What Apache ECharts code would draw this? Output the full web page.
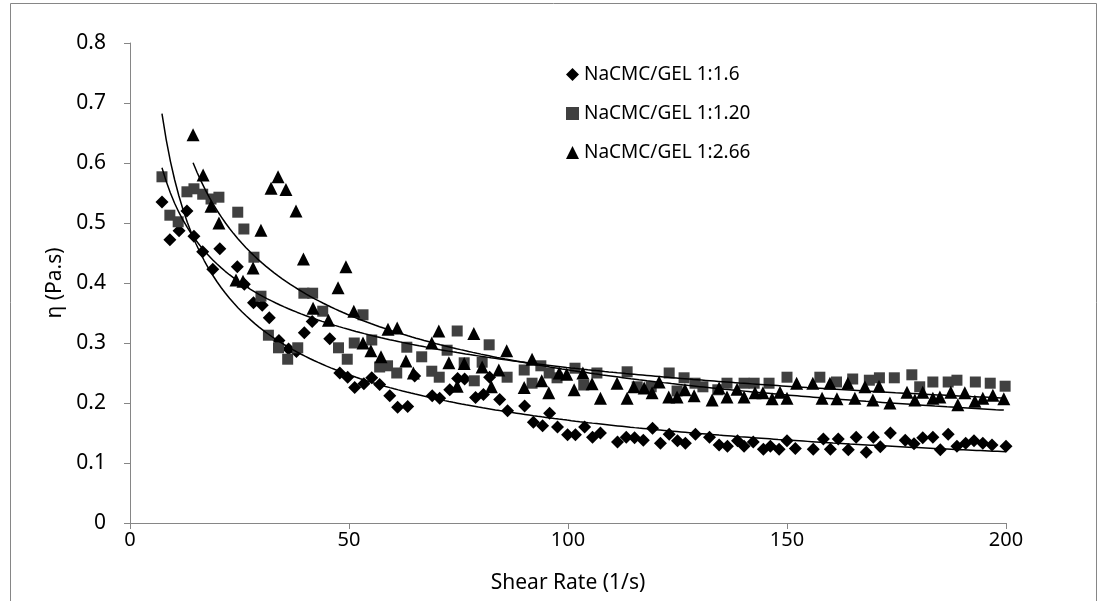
<!DOCTYPE html>
<html>
<head>
<meta charset="utf-8">
<script src="https://cdn.jsdelivr.net/npm/echarts@6/dist/echarts.min.js"></script>
<style>
html,body{margin:0;padding:0;background:#fff;}
#c{width:1101px;height:601px;}
</style>
</head>
<body>
<div id="c"></div>
<script>
// Series names
const seriesNames = ['NaCMC/GEL 1:1.6', 'NaCMC/GEL 1:1.20', 'NaCMC/GEL 1:2.66'];

// NaCMC/GEL 1:1.6 (diamonds) [shear rate, viscosity]
const gel16 = [
[7.3,0.535],[9.1,0.472],[11.2,0.487],[13,0.52],[14.6,0.478],[16.6,0.452],[18.9,0.423],[20.5,0.457],
[24.5,0.427],[26.1,0.398],[28.2,0.367],[30.2,0.363],[31.8,0.342],[34,0.304],[36.2,0.29],[38,0.286],
[39.8,0.317],[41.6,0.336],[45.6,0.307],[47.9,0.25],[49.7,0.243],[51.3,0.226],[53.4,0.232],[55.2,0.242],
[57,0.231],[59.3,0.212],[61.1,0.193],[63.4,0.194],[65,0.245],[69,0.212],[70.7,0.208],[73,0.222],
[74.8,0.241],[76.4,0.24],[78.9,0.209],[80.7,0.214],[82.1,0.243],[84.4,0.206],[86.2,0.187],[90.1,0.195],
[92.1,0.168],[94.2,0.162],[95.8,0.183],[97.6,0.16],[99.9,0.147],[101.7,0.147],[103.8,0.16],[105.6,0.143],
[107.4,0.15],[111.3,0.135],[113.3,0.143],[115.2,0.142],[117.2,0.138],[119.3,0.158],[121.1,0.133],[123.1,0.148],
[125,0.137],[126.8,0.133],[129.1,0.148],[132.3,0.143],[134.5,0.13],[136.4,0.128],[138.7,0.137],[140.2,0.128],
[142.3,0.135],[144.6,0.123],[146.2,0.128],[148.2,0.123],[150,0.137],[151.9,0.124],[156,0.123],[158.3,0.14],
[159.9,0.123],[161.7,0.14],[164,0.122],[165.8,0.143],[168.1,0.118],[169.7,0.143],[171.3,0.127],[173.6,0.15],
[177,0.138],[179,0.132],[181,0.142],[183.3,0.143],[185,0.122],[186.8,0.148],[188.8,0.128],[190.8,0.133],
[192.7,0.137],[194.7,0.133],[196.8,0.13],[200,0.128]
];

// NaCMC/GEL 1:1.20 (squares)
const gel120 = [
[7.3,0.577],[9.1,0.513],[11,0.502],[13,0.552],[14.6,0.557],[16.6,0.548],[18.5,0.54],[20.3,0.543],
[24.6,0.518],[26,0.49],[28.3,0.443],[29.9,0.378],[31.6,0.313],[33.9,0.292],[36,0.273],[38.3,0.292],
[39.7,0.383],[41.7,0.383],[44,0.353],[47.6,0.292],[49.6,0.273],[51.2,0.3],[53.2,0.347],[55.2,0.305],
[57,0.26],[58.8,0.262],[60.9,0.25],[63.2,0.293],[66.6,0.277],[68.9,0.253],[70.6,0.243],[72.4,0.288],
[74.7,0.32],[76.3,0.267],[78.6,0.237],[80.4,0.268],[82,0.297],[86.1,0.243],[90,0.255],[91.8,0.233],
[93.8,0.262],[95.7,0.25],[97.5,0.242],[101.6,0.258],[103.6,0.23],[106.6,0.25],[113.5,0.252],[115.8,0.227],
[119,0.227],[123.1,0.25],[124.9,0.22],[126.5,0.242],[129,0.233],[130.8,0.227],[134.2,0.222],[136.3,0.233],
[140.2,0.233],[142.5,0.233],[145.9,0.233],[150,0.243],[157.5,0.243],[161.3,0.235],[165,0.24],[168.8,0.238],
[171.1,0.242],[174.5,0.242],[178.5,0.247],[180.3,0.227],[183.3,0.235],[186.8,0.235],[188.8,0.238],[193,0.235],
[196.4,0.233],[199.8,0.228]
];

// NaCMC/GEL 1:2.66 (triangles)
const gel266 = [
[14.4,0.647],[16.7,0.58],[18.5,0.528],[20.3,0.5],[24.2,0.405],[25.8,0.403],[28.1,0.425],[29.9,0.488],
[32.2,0.558],[33.8,0.577],[35.6,0.556],[37.9,0.52],[39.6,0.44],[41.8,0.358],[45.3,0.338],[47.5,0.392],
[49.3,0.427],[51.1,0.353],[53.2,0.3],[55,0.287],[57.3,0.277],[58.9,0.323],[61,0.325],[63,0.27],
[64.7,0.25],[68.9,0.3],[70.5,0.32],[72.8,0.267],[74.7,0.228],[76.3,0.266],[78.5,0.316],[80.4,0.26],
[82.5,0.227],[84.2,0.255],[86,0.287],[90,0.226],[91.8,0.273],[94,0.237],[95.6,0.217],[98,0.25],
[99.7,0.248],[101.4,0.222],[103.4,0.25],[105.5,0.232],[107.4,0.208],[111.2,0.233],[113.5,0.208],[115,0.227],
[117.4,0.225],[119.2,0.217],[120.8,0.235],[123,0.21],[124.9,0.21],[126.7,0.222],[128.8,0.212],[132.9,0.205],
[134.5,0.225],[136.3,0.21],[138.6,0.223],[140.2,0.21],[142.7,0.217],[144.5,0.217],[146.6,0.207],[148.4,0.218],
[150,0.208],[152.2,0.233],[155.9,0.233],[158,0.208],[159.8,0.233],[161.4,0.207],[163.9,0.233],[165.5,0.208],
[167.8,0.227],[169.6,0.205],[171,0.228],[173.5,0.2],[177.4,0.218],[179.2,0.205],[181,0.218],[183.3,0.208],
[184.9,0.21],[187.4,0.218],[189,0.197],[190.6,0.217],[192.9,0.203],[194.7,0.208],[197,0.213],[199.5,0.207]
];

// Axis tick settings
const xTicks = {min: 0, max: 200, interval: 50};
const yTicks = {min: 0, max: 0.8, interval: 0.1};

// Power-law trendline (least squares in log-log space), sampled along the data range
function powerFit(pts) {
  let n = pts.length, sx = 0, sy = 0, sxx = 0, sxy = 0;
  pts.forEach(p => { const lx = Math.log(p[0]), ly = Math.log(p[1]); sx += lx; sy += ly; sxx += lx*lx; sxy += lx*ly; });
  const b = (n*sxy - sx*sy) / (n*sxx - sx*sx);
  const a = Math.exp((sy - b*sx) / n);
  const x0 = Math.min(...pts.map(p => p[0])), x1 = Math.max(...pts.map(p => p[0]));
  const out = [];
  for (let i = 0; i <= 200; i++) { const x = x0 + (x1 - x0) * i / 200; out.push([x, a * Math.pow(x, b)]); }
  return out;
}

const font = 'Noto Sans';
const chart = echarts.init(document.getElementById('c'), null, {renderer: 'canvas'});
const trend = (pts) => ({
  type: 'line', data: powerFit(pts), showSymbol: false, symbol: 'none', silent: true,
  lineStyle: {color: '#000', width: 1.5}, z: 5
});
chart.setOption({
  animation: false,
  backgroundColor: '#fff',
  graphic: [{type: 'rect', shape: {x: 10.5, y: 3.5, width: 1086, height: 620}, style: {fill: 'none', stroke: '#868686', lineWidth: 1}, silent: true}],
  grid: {left: 130, right: 95, top: 43, bottom: 78},
  legend: {
    orient: 'vertical', left: 561, top: 57, itemGap: 14, itemWidth: 13, itemHeight: 13,
    data: [{name: seriesNames[0], icon: 'diamond'}, {name: seriesNames[1], icon: 'rect'}, {name: seriesNames[2], icon: 'triangle'}],
    textStyle: {fontFamily: font, fontSize: 19, color: '#000', lineHeight: 25}
  },
  xAxis: {
    type: 'value', min: xTicks.min, max: xTicks.max, interval: xTicks.interval,
    name: 'Shear Rate (1/s)', nameLocation: 'middle', nameGap: 50,
    nameTextStyle: {fontFamily: font, fontSize: 21, color: '#000'},
    axisLine: {lineStyle: {color: '#868686', width: 1}},
    axisTick: {show: true, length: 6, lineStyle: {color: '#868686'}},
    axisLabel: {fontFamily: font, fontSize: 20, color: '#000', margin: 7},
    splitLine: {show: false}
  },
  yAxis: {
    type: 'value', min: yTicks.min, max: yTicks.max, interval: yTicks.interval,
    name: 'η (Pa.s)', nameLocation: 'middle', nameGap: 56, nameRotate: 90,
    nameTextStyle: {fontFamily: font, fontSize: 21, color: '#000'},
    axisLine: {show: true, lineStyle: {color: '#868686', width: 1}},
    axisTick: {show: true, length: 6, lineStyle: {color: '#868686'}},
    axisLabel: {fontFamily: font, fontSize: 21, color: '#000', margin: 24,
      formatter: v => v === 0 ? '0' : v.toFixed(1)},
    splitLine: {show: false}
  },
  series: [
    {name: seriesNames[0], type: 'scatter', data: gel16, symbol: 'diamond', symbolSize: 13, itemStyle: {color: '#000', opacity: 1}, z: 2},
    {name: seriesNames[1], type: 'scatter', data: gel120, symbol: 'rect', symbolSize: 11, itemStyle: {color: '#404040', opacity: 1}, z: 3},
    {name: seriesNames[2], type: 'scatter', data: gel266, symbol: 'triangle', symbolSize: 13, itemStyle: {color: '#000', opacity: 1}, z: 4},
    trend(gel16), trend(gel120), trend(gel266)
  ]
});
</script>
</body>
</html>
